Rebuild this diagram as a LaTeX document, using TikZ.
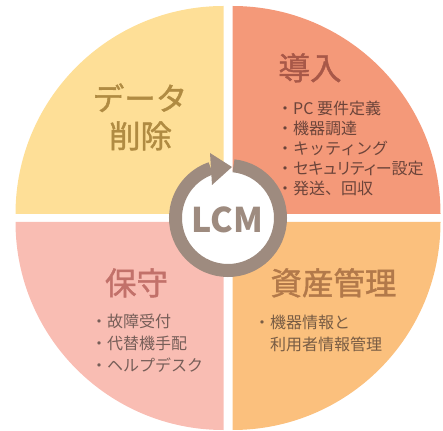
\documentclass[tikz,border=0pt]{standalone}
\usepackage{fontspec}
\setmainfont{Noto Sans CJK JP}
\newfontfamily\jpp[RawFeature=+palt]{Noto Sans CJK JP}
\newfontfamily\jpm[FakeBold=1.3]{Noto Sans CJK JP}
\definecolor{qyellow}{RGB}{254,223,151}
\definecolor{qsalmon}{RGB}{244,153,121}
\definecolor{qpink}{RGB}{249,189,179}
\definecolor{qorange}{RGB}{251,192,125}
\definecolor{ringc}{RGB}{158,139,127}
\definecolor{hyellow}{RGB}{176,139,66}
\definecolor{hsalmon}{RGB}{168,88,72}
\definecolor{hpink}{RGB}{194,113,106}
\definecolor{horange}{RGB}{178,121,74}
\definecolor{tsalmon}{RGB}{108,68,58}
\definecolor{tpink}{RGB}{118,94,88}
\definecolor{torange}{RGB}{120,92,68}
\tikzset{
  head/.style={inner sep=0pt, anchor=base, font=\jpm\fontsize{31.5}{37}\selectfont},
  item/.style={inner sep=0pt, anchor=base west, font=\fontsize{16}{20}\selectfont},
}
\begin{document}
\begin{tikzpicture}[x=1pt,y=1pt]
\useasboundingbox (0,0) rectangle (443,430);
% quadrants
\fill[qyellow] (223.5,216) -- ++(-208,0) arc[start angle=180,end angle=90,radius=208] -- cycle;
\fill[qsalmon] (232.5,216) -- ++(0,208) arc[start angle=90,end angle=0,radius=208] -- cycle;
\fill[qpink] (223.5,208) -- ++(-208,0) arc[start angle=180,end angle=270,radius=208] -- cycle;
\fill[qorange] (232.5,208) -- ++(0,-208) arc[start angle=270,end angle=360,radius=208] -- cycle;
% center
\coordinate (c) at (228,212);
\fill[white] (c) circle[radius=47];
\draw[ringc, line width=13pt] (c) ++(84:52.5) arc[start angle=84,end angle=-251,radius=52.5];
\fill[ringc] (210,277) -- (232,263) -- (212,245) -- cycle;
\node[ringc, inner sep=0pt, anchor=base, font=\bfseries\fontsize{34}{34}\selectfont] (lcm) at (227.5,197) {LCM};
% headings
\node[head, hyellow] (h1a) at (140,319.7) {データ};
\node[head, hyellow] (h1b) at (140.5,282.2) {削除};
\node[head, hsalmon] (h2) at (310,350.2) {導入};
\node[head, hpink] (h3) at (136.5,135.2) {保守};
\node[head, horange] (h4) at (333.5,135.2) {資産管理};
% top right items
\node[item, tsalmon] (t1) at (277,315) {・PC 要件定義};
\node[item, tsalmon] (t2) at (277,295) {・機器調達};
\node[item, tsalmon] (t3) at (277,275) {・キッティング};
\node[item, tsalmon] (t4) at (277,255) {・{\jpp セキュリティー設定}};
\node[item, tsalmon] (t5) at (277,235) {・発送、回収};
% bottom left items
\node[item, tpink] (b1) at (91,102) {・故障受付};
\node[item, tpink] (b2) at (91,80.5) {・代替機手配};
\node[item, tpink] (b3) at (91,59) {・ヘルプデスク};
% bottom right items
\node[item, torange] (r1) at (254,101) {・機器情報と};
\node[item, torange] (r2) at (270,79) {利用者情報管理};
\end{tikzpicture}
\end{document}
